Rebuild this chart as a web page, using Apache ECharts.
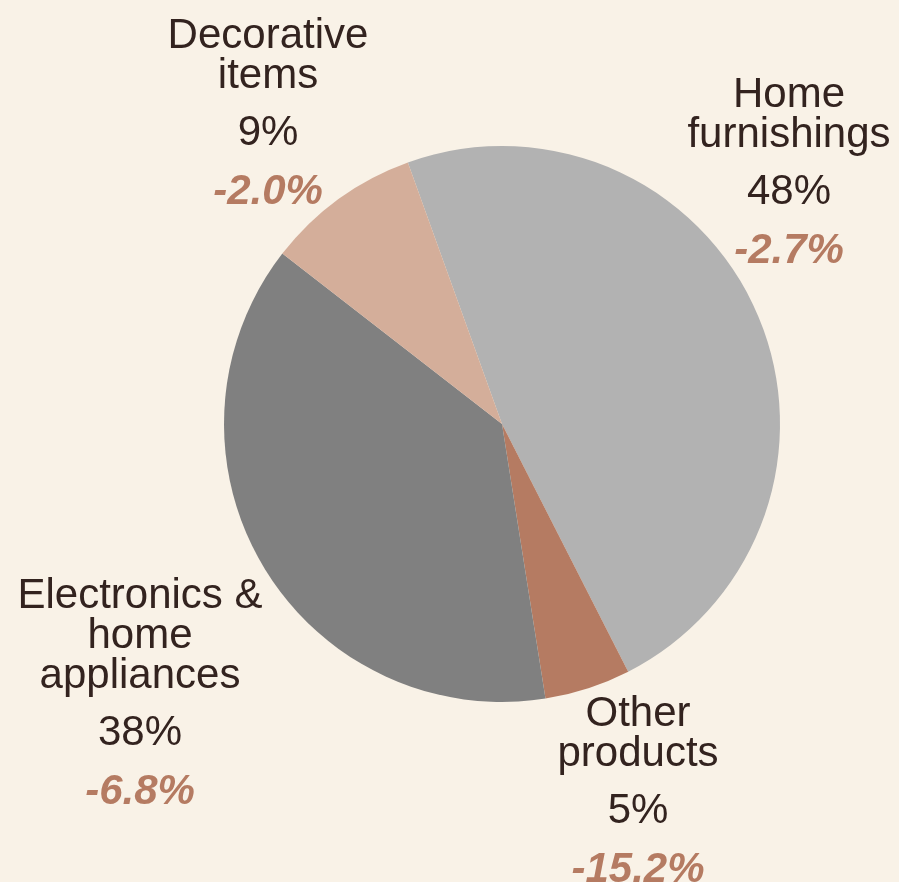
<!DOCTYPE html>
<html>
<head>
<meta charset="utf-8">
<script src="https://cdn.jsdelivr.net/npm/echarts@6/dist/echarts.min.js"></script>
<style>
  html, body { margin: 0; padding: 0; background: #f9f2e7; }
  #main { width: 899px; height: 882px; }
</style>
</head>
<body>
<div id="main"></div>
<script>
// chart data
const categories = ['Home furnishings', 'Other products', 'Electronics & home appliances', 'Decorative items'];
const labelNames = ['Home\nfurnishings', 'Other\nproducts', 'Electronics &\nhome\nappliances', 'Decorative\nitems'];
const shares = [48, 5, 38, 9];
const changes = ['-2.7%', '-15.2%', '-6.8%', '-2.0%'];
const colors = ['#b2b2b2', '#b57b62', '#808080', '#d4ae9a'];

// where each label block starts (center x, top y)
const labelPos = [[789, 75], [638, 694], [140, 576], [268, 16]];

let myChart = echarts.init(document.getElementById('main'));

let pieData = [];
for (let i = 0; i < categories.length; i++) {
  pieData.push({
    name: categories[i],
    value: shares[i],
    itemStyle: { color: colors[i] }
  });
}

myChart.setOption({
  backgroundColor: '#f9f2e7',
  animation: false,
  series: [
    {
      type: 'pie',
      center: [502, 424],
      radius: 278,
      startAngle: 109.8,
      clockwise: true,
      avoidLabelOverlap: false,
      data: pieData,
      itemStyle: { borderWidth: 0 },
      emphasis: { disabled: true },
      labelLine: { show: false },
      label: {
        show: true,
        position: 'outside',
        fontFamily: 'Liberation Sans',
        formatter: function (p) {
          let i = p.dataIndex;
          return '{name|' + labelNames[i] + '}\n{pct|' + shares[i] + '%}\n{chg|' + changes[i] + '}';
        },
        rich: {
          name: { fontSize: 42, lineHeight: 40, color: '#33231f', fontFamily: 'Liberation Sans', align: 'center' },
          pct: { fontSize: 42, lineHeight: 75, color: '#33231f', fontFamily: 'Liberation Sans', align: 'center' },
          chg: { fontSize: 42, lineHeight: 42, color: '#b57b62', fontWeight: 'bold', fontStyle: 'italic', fontFamily: 'Liberation Sans', align: 'center' }
        }
      },
      labelLayout: function (params) {
        let pos = labelPos[params.dataIndex];
        return { x: pos[0], y: pos[1], align: 'center', verticalAlign: 'top' };
      }
    }
  ]
});
</script>
</body>
</html>
